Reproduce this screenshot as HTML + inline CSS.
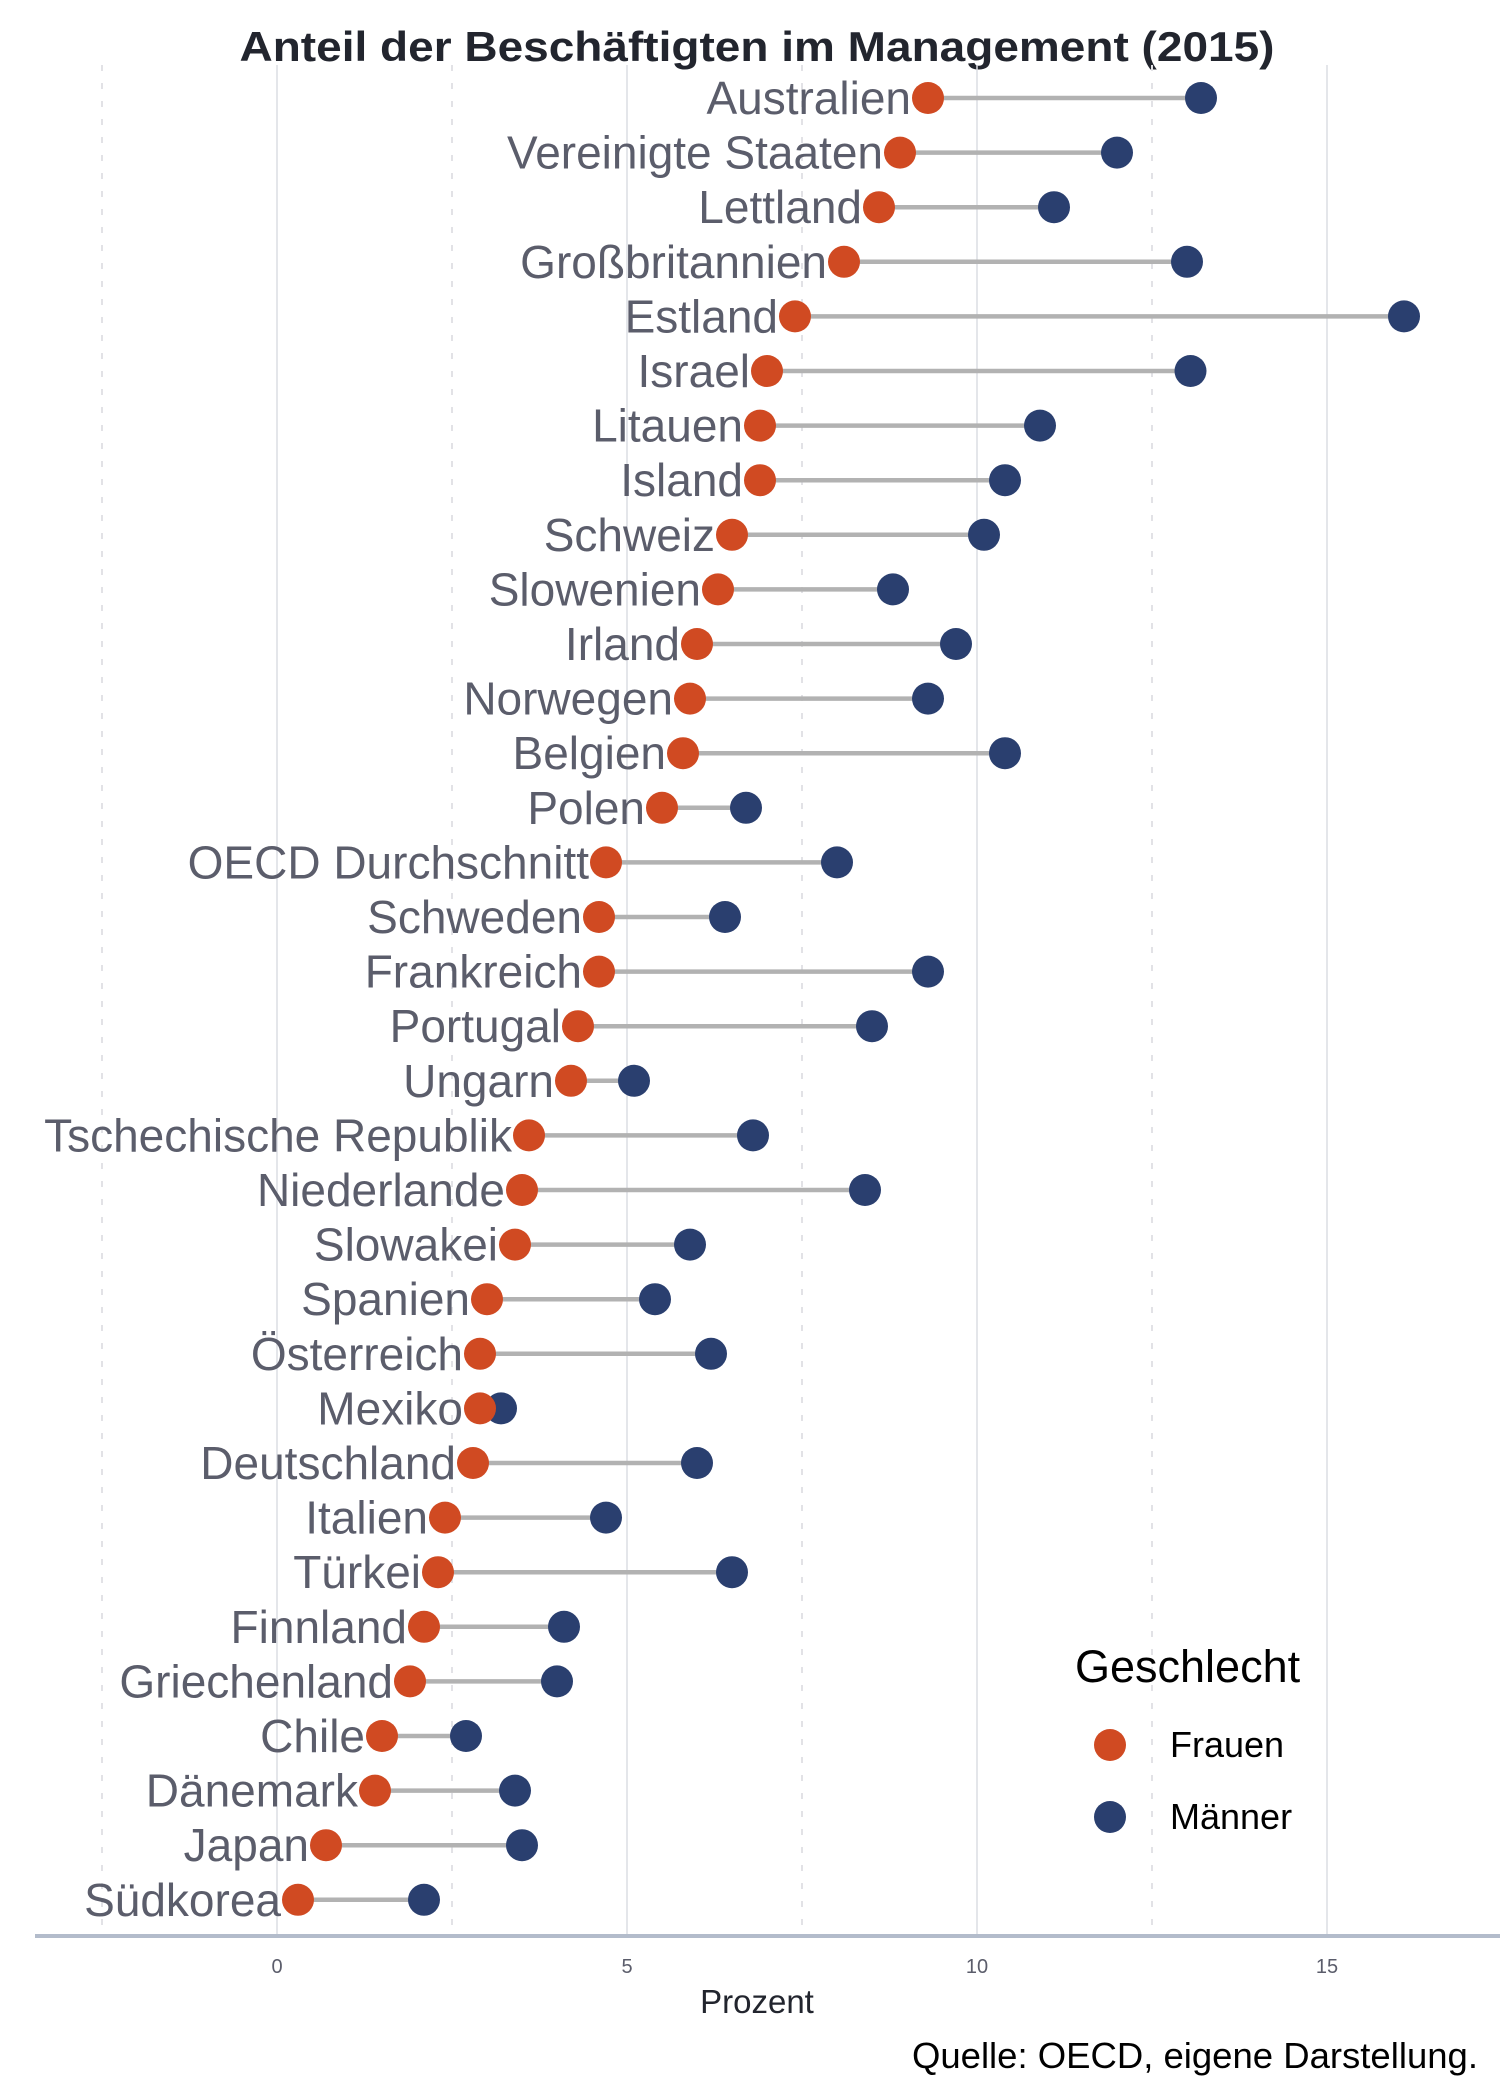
<!DOCTYPE html>
<html><head><meta charset="utf-8"><style>
html,body{margin:0;padding:0;background:#fff;}
svg{display:block;font-family:"Liberation Sans",Arial,sans-serif;}
</style></head><body>
<svg id="chart" width="1500" height="2100" viewBox="0 0 1500 2100">
<text x="757" y="61" text-anchor="middle" font-size="42" font-weight="bold" fill="#22252e" textLength="1035" lengthAdjust="spacingAndGlyphs">Anteil der Beschäftigten im Management (2015)</text>
<g id="grid"></g>
<g id="marks"></g>
<line x1="35" y1="1936" x2="1500" y2="1936" stroke="#b3bccb" stroke-width="4"/>
<g id="ticks"></g>
<text x="757" y="2013" text-anchor="middle" font-size="33" fill="#22252e">Prozent</text>
<text x="1478" y="2068" text-anchor="end" font-size="36.5" fill="#000">Quelle: OECD, eigene Darstellung.</text>
<g>
<text x="1075" y="1682" font-size="45" fill="#000">Geschlecht</text>
<circle cx="1110" cy="1745" r="16" fill="#d04a22"/>
<text x="1170" y="1757" font-size="36" fill="#000">Frauen</text>
<circle cx="1110" cy="1817" r="16" fill="#2a3f6f"/>
<text x="1170" y="1829" font-size="36" fill="#000">Männer</text>
</g>
</svg>
<script>
const countries = ["Australien","Vereinigte Staaten","Lettland","Großbritannien","Estland","Israel","Litauen","Island","Schweiz","Slowenien","Irland","Norwegen","Belgien","Polen","OECD Durchschnitt","Schweden","Frankreich","Portugal","Ungarn","Tschechische Republik","Niederlande","Slowakei","Spanien","Österreich","Mexiko","Deutschland","Italien","Türkei","Finnland","Griechenland","Chile","Dänemark","Japan","Südkorea"];
const frauen = [9.3,8.9,8.6,8.1,7.4,7.0,6.9,6.9,6.5,6.3,6.0,5.9,5.8,5.5,4.7,4.6,4.6,4.3,4.2,3.6,3.5,3.4,3.0,2.9,2.9,2.8,2.4,2.3,2.1,1.9,1.5,1.4,0.7,0.3];
const maenner = [13.2,12.0,11.1,13.0,16.1,13.05,10.9,10.4,10.1,8.8,9.7,9.3,10.4,6.7,8.0,6.4,9.3,8.5,5.1,6.8,8.4,5.9,5.4,6.2,3.2,6.0,4.7,6.5,4.1,4.0,2.7,3.4,3.5,2.1];
const majorTicks = [0,5,10,15];
const minorTicks = [-2.5,2.5,7.5,12.5];

const NS = "http://www.w3.org/2000/svg";
const xs = v => 277 + v * 70;
const ys = i => 98 + i * 54.6;
function mk(tag, attrs, parent) {
  const e = document.createElementNS(NS, tag);
  for (const k in attrs) e.setAttribute(k, attrs[k]);
  parent.appendChild(e);
  return e;
}
const grid = document.getElementById("grid");
const marks = document.getElementById("marks");
const ticks = document.getElementById("ticks");
minorTicks.forEach(t => {
  const l = mk("line", {x1: xs(t), x2: xs(t), y1: 65, y2: 1936, stroke: "#e2e2e6", "stroke-width": 2, "stroke-dasharray": "6 12"}, grid);
  
  
});
majorTicks.forEach(t => {
  const l = mk("line", {x1: xs(t), x2: xs(t), y1: 65, y2: 1936, stroke: "#dcdde4", "stroke-width": 1.5}, grid);
  
  
  const tx = mk("text", {x: xs(t), y: 1973, "text-anchor": "middle", "font-size": 20, fill: "#5b5d6b"}, ticks);
  tx.textContent = t;
  
  
});
countries.forEach((c, i) => {
  const y = ys(i);
  const seg = mk("line", {x1: xs(frauen[i]), x2: xs(maenner[i]), y1: y, y2: y, stroke: "#b2b2b2", "stroke-width": 4.5}, marks);
  
  
  const lab = mk("text", {x: xs(frauen[i]) - 17, y: y + 16, "text-anchor": "end", "font-size": 46, fill: "#5b5d6b"}, marks);
  lab.textContent = c;
  
  
  const m = mk("circle", {cx: xs(maenner[i]), cy: y, r: 16, fill: "#2a3f6f"}, marks);
  
  
  const f = mk("circle", {cx: xs(frauen[i]), cy: y, r: 16, fill: "#d04a22"}, marks);
  
  
});
</script>
</body></html>
